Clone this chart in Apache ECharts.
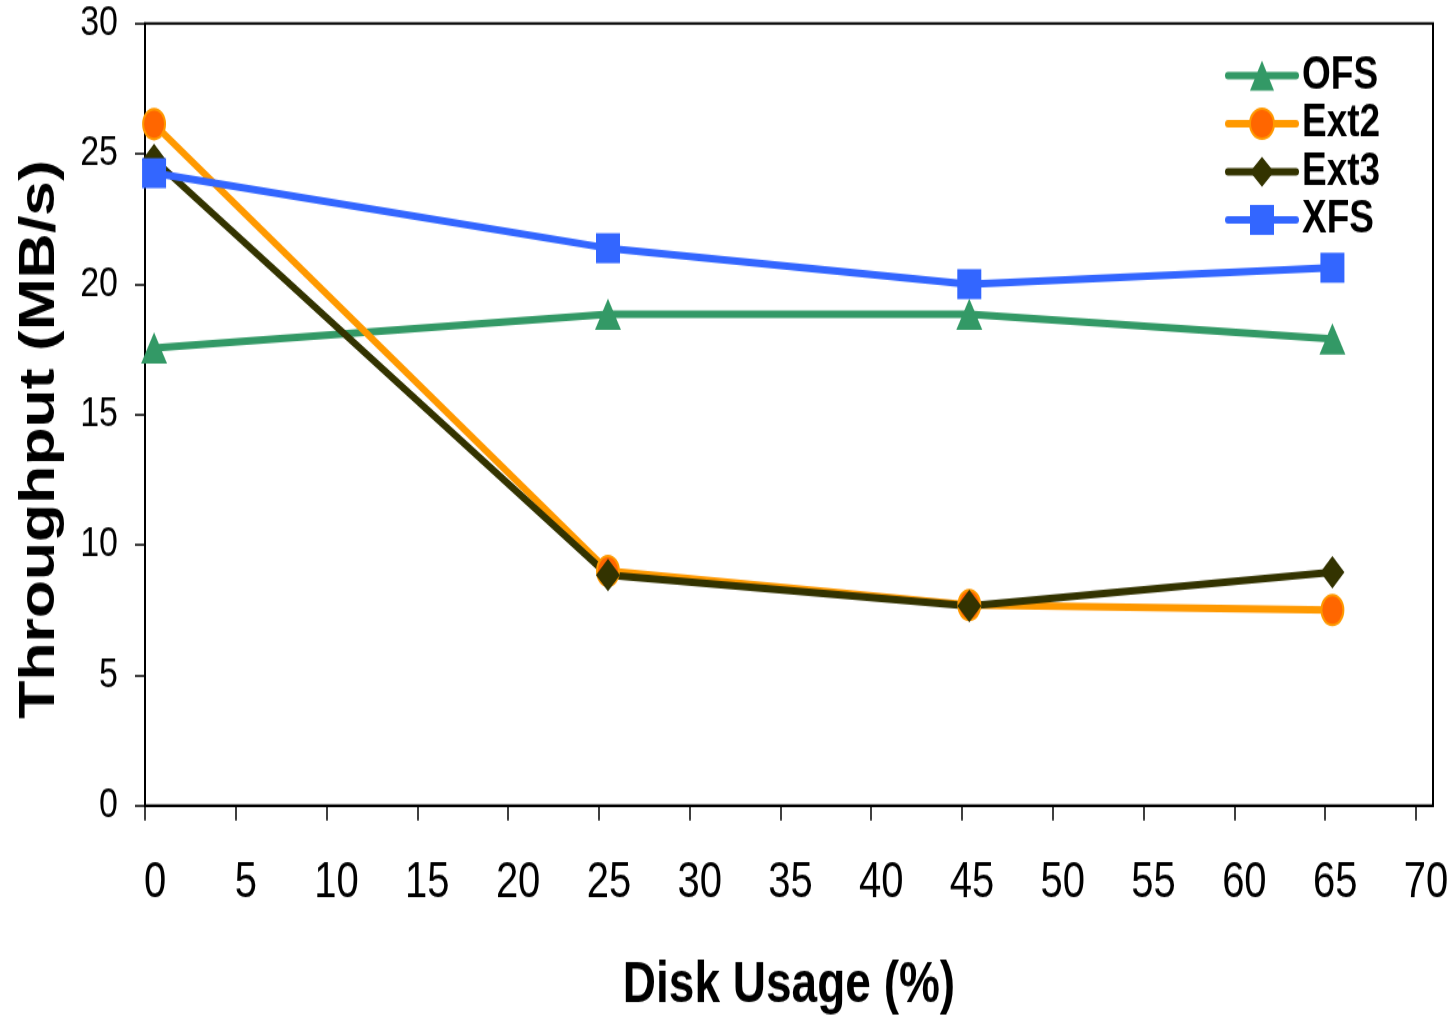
<!DOCTYPE html>
<html>
<head>
<meta charset="utf-8">
<script src="https://cdn.jsdelivr.net/npm/echarts@6/dist/echarts.min.js"></script>
<style>
html { margin: 0; padding: 0; background: #fff; overflow: hidden; }
body { margin: 0; padding: 0; background: #fff; height: 1017px; }
#chart { width: 1453px; height: 814px; transform: scaleY(1.2494); transform-origin: 0 0; }
</style>
</head>
<body>
<div id="chart"></div>
<script>
// Disk usage (%) positions
const diskUsage = [0.5, 25.5, 45.4, 65.4];
const xTickValues = [0, 5, 10, 15, 20, 25, 30, 35, 40, 45, 50, 55, 60, 65, 70];
// Throughput (MB/s)
const ofs  = [17.55, 18.85, 18.85, 17.90];
const ext2 = [26.14, 9.00, 7.69, 7.50];
const ext3 = [24.77, 8.84, 7.65, 8.95];
const xfs  = [24.26, 21.38, 20.00, 20.63];

function pairs(xs, ys) { return xs.map((x, i) => [x, ys[i]]); }

const chart = echarts.init(document.getElementById('chart'));
const lineW = 6;
chart.setOption({
  animation: false,
  backgroundColor: '#ffffff',
  grid: {
    left: 145, right: 20, top: 18.8, bottom: 169.3,
    containLabel: false, outerBoundsMode: 'none',
    show: true, borderColor: '#000', borderWidth: 2, backgroundColor: 'transparent'
  },
  legend: {
    orient: 'vertical',
    left: 1225, top: 42, padding: 0,
    itemWidth: 68, itemHeight: 30, itemGap: 1.5,
    lineStyle: { width: 6, cap: 'round' },
    textStyle: { fontFamily: '"Liberation Sans", Arial, sans-serif', fontWeight: 'bold', fontSize: 37, color: '#000', padding: [0, 0, 0, 1] },
    data: ['OFS', 'Ext2', 'Ext3', 'XFS']
  },
  xAxis: {
    type: 'value', min: 0, max: 70.94, interval: 5,
    name: 'Disk Usage (%)', nameLocation: 'middle', nameGap: 122,
    nameTextStyle: { fontFamily: '"Liberation Sans", Arial, sans-serif', fontWeight: 'bold', fontSize: 46, color: '#000' },
    axisLine: { show: true, lineStyle: { color: '#000', width: 2 } },
    axisTick: { show: true, inside: false, length: 12, lineStyle: { color: '#000', width: 1.5 }, customValues: xTickValues },
    axisLabel: { show: true, margin: 42, fontFamily: '"Liberation Sans", Arial, sans-serif', fontSize: 40, color: '#000',
      padding: [0, 0, 0, 20], showMaxLabel: false,
      formatter: function (v) { return (v % 5 === 0) ? String(v) : ''; } },
    splitLine: { show: false }
  },
  yAxis: {
    type: 'value', min: 0, max: 30, interval: 5,
    name: 'Throughput (MB/s)', nameLocation: 'middle', nameGap: 80,
    nameTextStyle: { fontFamily: '"Liberation Sans", Arial, sans-serif', fontWeight: 'bold', fontSize: 50, color: '#000', padding: [0, 40, 0, 0] },
    axisLine: { show: true, lineStyle: { color: '#000', width: 2 } },
    axisTick: { show: true, inside: false, length: 10, lineStyle: { color: '#000', width: 1.5 } },
    axisLabel: { show: true, margin: 27, fontFamily: '"Liberation Sans", Arial, sans-serif', fontSize: 34, color: '#000' },
    splitLine: { show: false }
  },
  series: [
    {
      name: 'OFS', type: 'line', data: pairs(diskUsage, ofs),
      symbol: 'triangle', symbolSize: [26, 25],
      lineStyle: { color: '#339966', width: lineW },
      itemStyle: { color: '#339966' }
    },
    {
      name: 'Ext2', type: 'line', data: pairs(diskUsage, ext2),
      symbol: 'circle', symbolSize: [22, 24],
      lineStyle: { color: '#FF9900', width: lineW },
      itemStyle: { color: '#FF6600', borderColor: '#FF9900', borderWidth: 2 }
    },
    {
      name: 'Ext3', type: 'line', data: pairs(diskUsage, ext3),
      symbol: 'diamond', symbolSize: [24, 26],
      lineStyle: { color: '#333300', width: lineW },
      itemStyle: { color: '#333300' }
    },
    {
      name: 'XFS', type: 'line', data: pairs(diskUsage, xfs),
      symbol: 'rect', symbolSize: [24, 24],
      lineStyle: { color: '#3366FF', width: lineW },
      itemStyle: { color: '#3366FF' }
    }
  ]
});
</script>
</body>
</html>
